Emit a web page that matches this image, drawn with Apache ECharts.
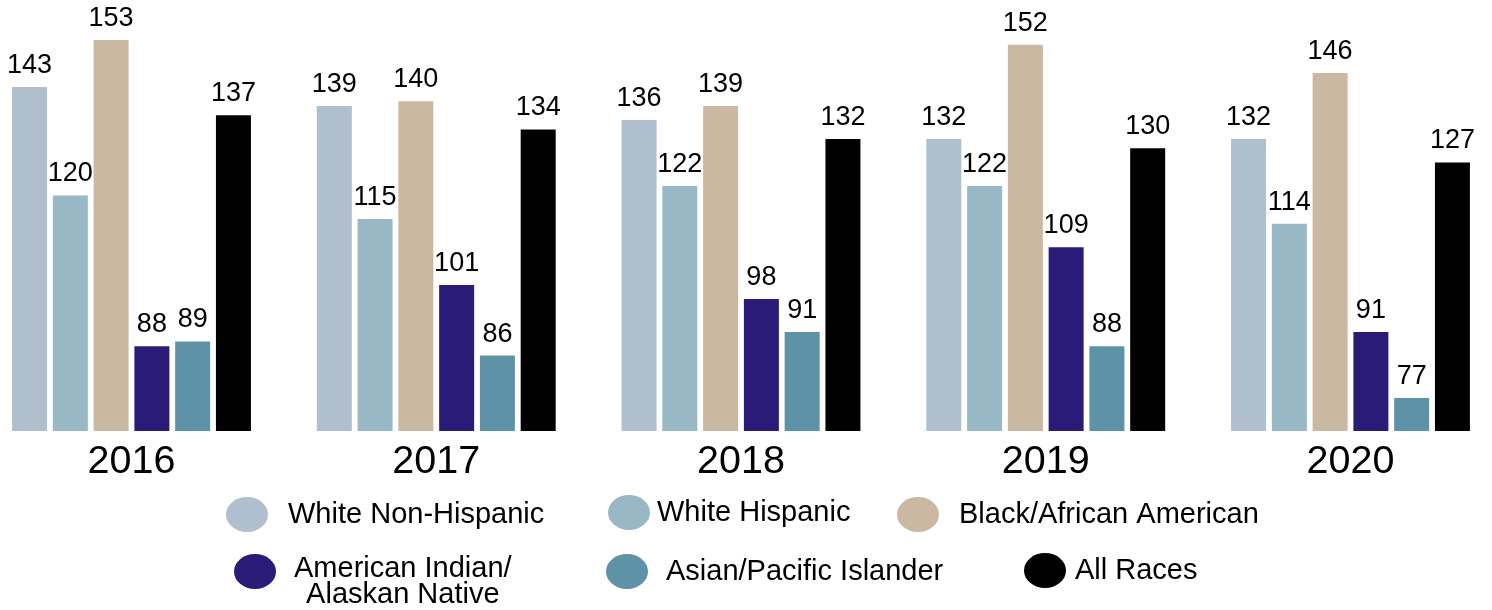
<!DOCTYPE html>
<html>
<head>
<meta charset="utf-8">
<script src="https://cdn.jsdelivr.net/npm/echarts@6/dist/echarts.min.js"></script>
<style>
  html, body { margin: 0; padding: 0; background: #fff; }
  #chart { width: 1492px; height: 610px; }
</style>
</head>
<body>
<div id="chart"></div>
<script>
  const years = ["2016", "2017", "2018", "2019", "2020"];
  const whiteNonHispanic = [143, 139, 136, 132, 132];
  const whiteHispanic = [120, 115, 122, 122, 114];
  const blackAfricanAmerican = [153, 140, 139, 152, 146];
  const americanIndian = [88, 101, 98, 109, 91];
  const asianPacific = [89, 86, 91, 88, 77];
  const allRaces = [137, 134, 132, 130, 127];

  const font = '"Liberation Sans", Arial, Helvetica, sans-serif';
  const ellipse = "path://M0,50A50,50,0,1,1,100,50A50,50,0,1,1,0,50Z";

  let myChart = echarts.init(document.getElementById("chart"));

  function bar(name, data, color) {
    return {
      name: name,
      type: "bar",
      data: data,
      barWidth: 35,
      barGap: "16.5%",
      clip: false,
      itemStyle: { color: color },
      label: {
        show: true,
        position: "top",
        distance: 8,
        color: "#000",
        fontSize: 27,
        fontFamily: font,
      },
    };
  }

  function legendAt(name, left, top, gap, extra) {
    return Object.assign({
      data: [name],
      left: left,
      top: top,
      padding: 0,
      icon: ellipse,
      symbolKeepAspect: false,
      itemWidth: 42,
      itemHeight: 35,
      selectedMode: false,
      textStyle: {
        color: "#000",
        fontSize: 29,
        fontFamily: font,
        padding: [0, 0, 0, gap],
      },
    }, extra || {});
  }

  myChart.setOption({
    animation: false,
    grid: {
      left: 131.5,
      right: 141.5,
      top: 7,
      bottom: 179,
      containLabel: false,
    },
    xAxis: {
      type: "category",
      data: years,
      boundaryGap: false,
      axisLine: { show: false },
      axisTick: { show: false },
      splitLine: { show: false },
      axisLabel: {
        color: "#000",
        fontSize: 39.5,
        fontFamily: font,
        margin: 11,
      },
    },
    yAxis: {
      type: "value",
      min: 70,
      max: 160,
      startValue: 70,
      show: false,
      splitLine: { show: false },
    },
    legend: [
      legendAt("White Non-Hispanic", 226, 497, 15),
      legendAt("White Hispanic", 608, 495, 2),
      legendAt("Black/African American", 897, 497, 15),
      legendAt("American Indian/ Alaskan Native", 234, 554, 13, {
        formatter: function () {
          return "{c|American Indian/}\n{c|Alaskan Native}";
        },
        textStyle: {
          color: "#000",
          fontSize: 29,
          fontFamily: font,
          padding: [20, 0, 0, 13],
          rich: {
            c: {
              align: "center",
              fontSize: 29,
              lineHeight: 26,
              fontFamily: font,
              color: "#000",
            },
          },
        },
      }),
      legendAt("Asian/Pacific Islander", 606, 554, 13),
      legendAt("All Races", 1024, 553, 4),
    ],
    series: [
      bar("White Non-Hispanic", whiteNonHispanic, "#AFBFCD"),
      bar("White Hispanic", whiteHispanic, "#97B8C4"),
      bar("Black/African American", blackAfricanAmerican, "#CBB8A2"),
      bar("American Indian/ Alaskan Native", americanIndian, "#2B1B79"),
      bar("Asian/Pacific Islander", asianPacific, "#5E92A6"),
      bar("All Races", allRaces, "#000000"),
    ],
  });
</script>
</body>
</html>
